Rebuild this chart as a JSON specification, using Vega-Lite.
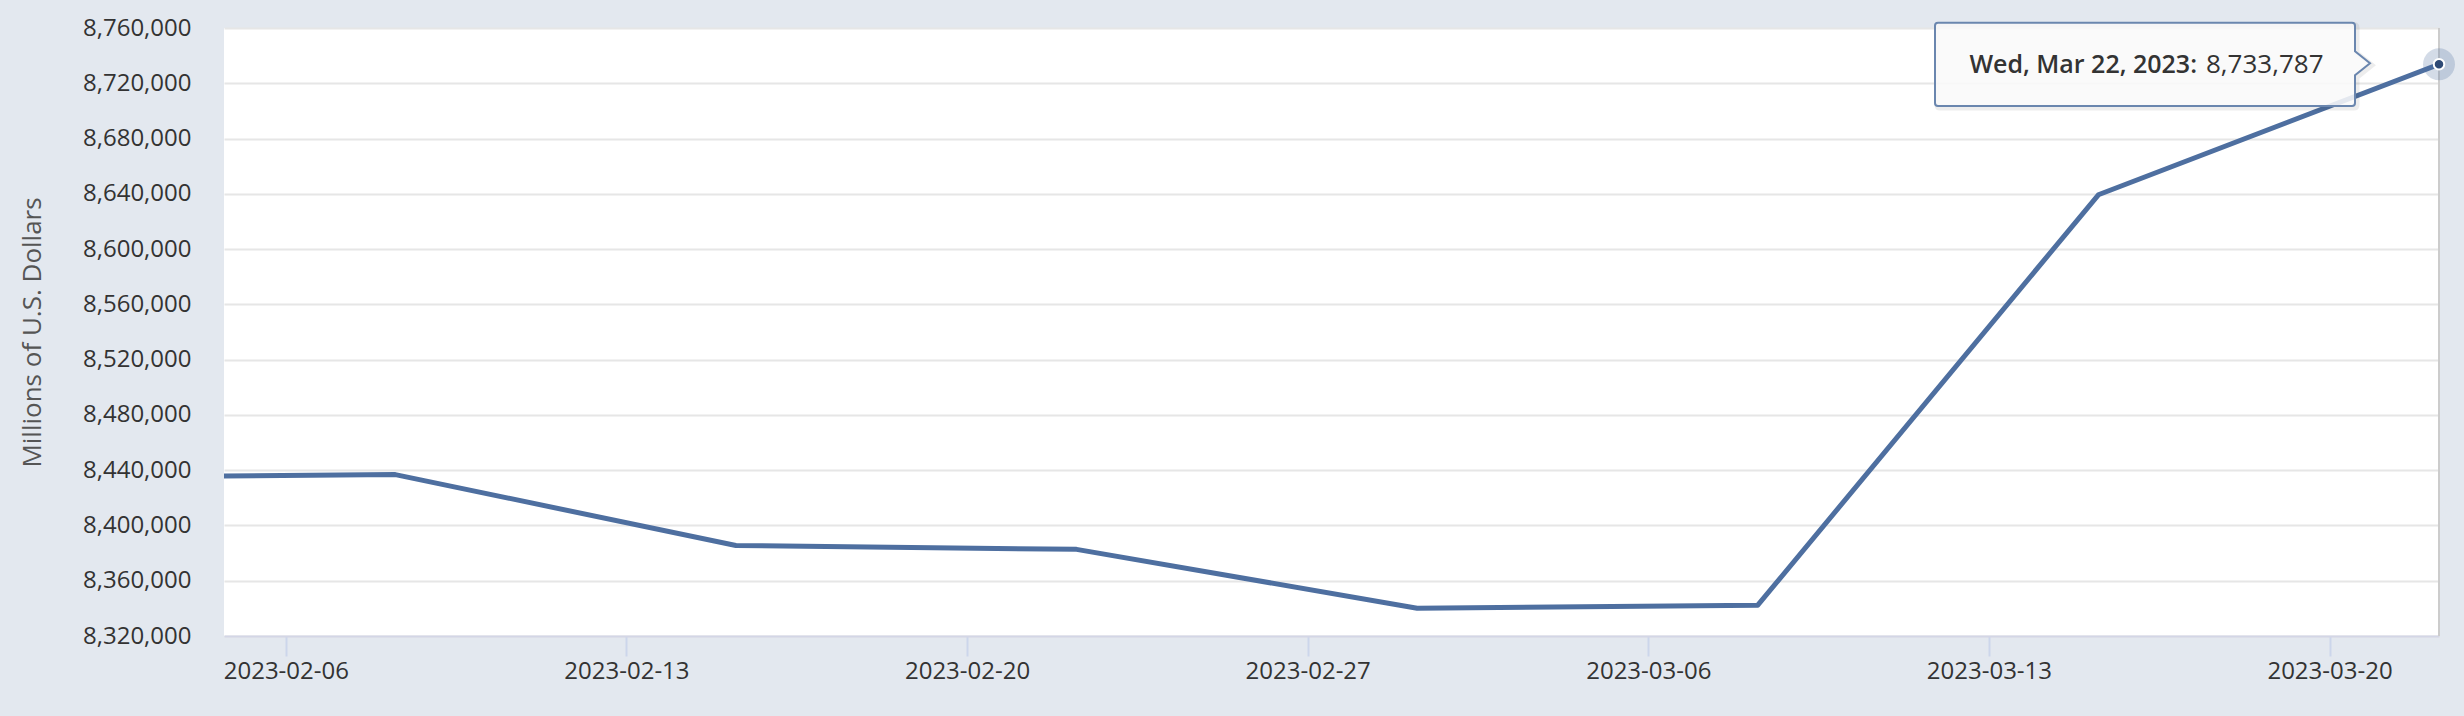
{
  "$schema": "https://vega.github.io/schema/vega-lite/v6.json",
  "width": 2215,
  "height": 608,
  "autosize": {"type": "none"},
  "padding": {"left": 224, "top": 28, "right": 25, "bottom": 80},
  "background": "#e3e8ef",
  "config": {"view": {"fill": "#ffffff", "stroke": null}, "font": "Open Sans"},
  "datasets": {
    "series": [
      {"date": "2023-02-01", "value": 8434800},
      {"date": "2023-02-08", "value": 8436800},
      {"date": "2023-02-15", "value": 8385500},
      {"date": "2023-02-22", "value": 8382700},
      {"date": "2023-03-01", "value": 8340100},
      {"date": "2023-03-08", "value": 8342300},
      {"date": "2023-03-15", "value": 8639300},
      {"date": "2023-03-22", "value": 8733787}
    ]
  },
  "data": {"name": "series"},
  "encoding": {
    "x": {
      "field": "date",
      "type": "temporal",
      "scale": {
        "type": "utc",
        "domain": [
          {"year": 2023, "month": 2, "date": 4, "hours": 11, "minutes": 30, "utc": true},
          {"year": 2023, "month": 3, "date": 22, "utc": true}
        ]
      },
      "axis": {
        "title": null,
        "grid": false,
        "values": [
          {"year": 2023, "month": 2, "date": 5, "hours": 18, "utc": true},
          {"year": 2023, "month": 2, "date": 12, "hours": 18, "utc": true},
          {"year": 2023, "month": 2, "date": 19, "hours": 18, "utc": true},
          {"year": 2023, "month": 2, "date": 26, "hours": 18, "utc": true},
          {"year": 2023, "month": 3, "date": 5, "hours": 18, "utc": true},
          {"year": 2023, "month": 3, "date": 12, "hours": 18, "utc": true},
          {"year": 2023, "month": 3, "date": 19, "hours": 18, "utc": true}
        ],
        "labelExpr": "utcFormat(datum.value + 21600000, '%Y-%m-%d')",
        "labelFont": "Open Sans",
        "labelFontSize": 24,
        "labelColor": "#333333",
        "labelPadding": 3,
        "labelFlush": false,
        "labelOverlap": false,
        "tickColor": "#ccd6eb",
        "tickSize": 20,
        "tickWidth": 2,
        "domainColor": "#d3d6e6",
        "domainWidth": 2
      }
    },
    "y": {
      "field": "value",
      "type": "quantitative",
      "scale": {"domain": [8320000, 8760000], "nice": false, "zero": false},
      "axis": {
        "title": "Millions of U.S. Dollars",
        "values": [8320000, 8360000, 8400000, 8440000, 8480000, 8520000, 8560000, 8600000, 8640000, 8680000, 8720000, 8760000],
        "format": ",d",
        "labelFont": "Open Sans",
        "labelFontSize": 24,
        "labelColor": "#333333",
        "labelPadding": 33,
        "ticks": false,
        "domain": false,
        "gridColor": "#e6e6e6",
        "gridWidth": 2,
        "titleFont": "Open Sans",
        "titleFontSize": 26,
        "titleFontWeight": "normal",
        "titleColor": "#555555",
        "titleAngle": -90,
        "titleX": -184,
        "titleY": 304,
        "titleAlign": "center",
        "titleBaseline": "alphabetic"
      }
    }
  },
  "layer": [
    {
      "transform": [{"filter": {"field": "value", "gt": 8700000}}],
      "mark": {"type": "rule", "color": "#cccccc", "strokeWidth": 2},
      "encoding": {"y": {"datum": 8760000}, "y2": {"datum": 8320000}}
    },
    {
      "mark": {"type": "line", "color": "#4e6fa0", "strokeWidth": 5, "clip": true, "strokeJoin": "round", "strokeCap": "round"}
    },
    {
      "transform": [{"filter": {"field": "value", "gt": 8700000}}],
      "mark": {"type": "point", "filled": true, "shape": "circle", "size": 1018, "color": "#4e6fa0", "opacity": 0.25}
    },
    {
      "transform": [{"filter": {"field": "value", "gt": 8700000}}],
      "mark": {"type": "point", "filled": true, "shape": "circle", "size": 110, "fill": "#2e4a75", "stroke": "#ffffff", "strokeWidth": 2, "opacity": 1}
    },
    {
      "transform": [{"filter": {"field": "value", "gt": 8700000}}],
      "mark": {
        "type": "point",
        "filled": false,
        "size": 4,
        "shape": "M-501,-41.5 L-87,-41.5 Q-84,-41.5 -84,-38.5 L-84,-13 L-69,-1 L-84,11 L-84,38.8 Q-84,41.8 -87,41.8 L-501,41.8 Q-504,41.8 -504,38.8 L-504,-38.5 Q-504,-41.5 -501,-41.5 Z",
        "stroke": "#000000",
        "strokeOpacity": 0.07,
        "strokeWidth": 5,
        "xOffset": 2,
        "yOffset": 2,
        "opacity": 1
      }
    },
    {
      "transform": [{"filter": {"field": "value", "gt": 8700000}}],
      "mark": {
        "type": "point",
        "filled": true,
        "size": 4,
        "shape": "M-501,-41.5 L-87,-41.5 Q-84,-41.5 -84,-38.5 L-84,-13 L-69,-1 L-84,11 L-84,38.8 Q-84,41.8 -87,41.8 L-501,41.8 Q-504,41.8 -504,38.8 L-504,-38.5 Q-504,-41.5 -501,-41.5 Z",
        "fill": "#f9f9f9",
        "fillOpacity": 0.88,
        "stroke": "#6a86ae",
        "strokeWidth": 2,
        "opacity": 1
      }
    },
    {
      "transform": [{"filter": {"field": "value", "gt": 8700000}}],
      "mark": {"type": "text", "align": "right", "baseline": "alphabetic", "dx": -242, "dy": 8.5, "font": "Open Sans", "fontSize": 25, "fontWeight": 600, "color": "#333333"},
      "encoding": {"text": {"field": "date", "type": "temporal", "timeUnit": "utcyearmonthdate", "format": "%a, %b %-d, %Y:"}}
    },
    {
      "transform": [{"filter": {"field": "value", "gt": 8700000}}],
      "mark": {"type": "text", "align": "left", "baseline": "alphabetic", "dx": -233, "dy": 8.5, "font": "Open Sans", "fontSize": 26, "fontWeight": "normal", "color": "#333333"},
      "encoding": {"text": {"field": "value", "type": "quantitative", "format": ","}}
    }
  ]
}
